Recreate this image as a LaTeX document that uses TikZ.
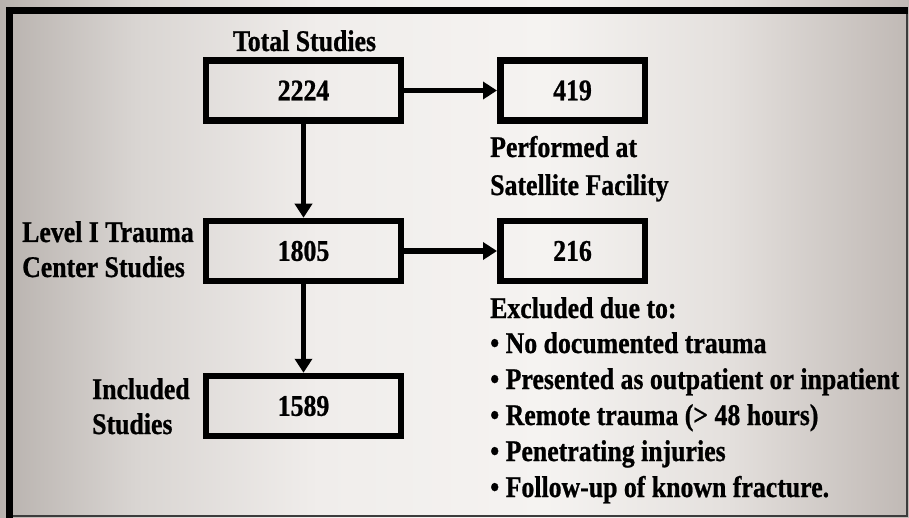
\documentclass[tikz,border=0pt]{standalone}
\usepackage{fontspec}
\setmainfont[FakeStretch=0.86,FakeBold=0.8]{Liberation Serif}
\usetikzlibrary{arrows.meta}
\definecolor{c0}{HTML}{B8B2AE}
\definecolor{c1}{HTML}{D9D5D2}
\definecolor{c2}{HTML}{F0EDEB}
\definecolor{c3}{HTML}{F5F3F1}
\definecolor{c4}{HTML}{E4E0DD}
\definecolor{c5}{HTML}{C0B9B5}
\definecolor{framegray}{HTML}{3C3C3C}
\pgfdeclarehorizontalshading{bgshade}{100bp}{color(0bp)=(c0); color(25bp)=(c0); color(32.5bp)=(c1); color(42.5bp)=(c2); color(55bp)=(c3); color(65bp)=(c4); color(75bp)=(c5); color(100bp)=(c5)}
\begin{document}
\begin{tikzpicture}[x=1pt,y=-1pt,
  txt/.style={inner sep=0pt, text=black, font=\fontsize{30}{36}\selectfont\bfseries},
  box/.style={txt, draw=black, line width=6.5pt, minimum width=195pt, minimum height=60pt},
  smallbox/.style={box, minimum width=144.5pt},
  arr/.style={line width=5.5pt, draw=black, -{Triangle[length=14pt,width=17pt]}}]
\shade[shading=bgshade] (0,0) rectangle (909,518);
\useasboundingbox (0,0) rectangle (909,518);
% frame
\fill[black] (6,7) rectangle (908,14);
\fill[black] (6,7) rectangle (13,518);
\draw[framegray, line width=1.2pt] (907,14) -- (907,516) -- (13,516);
% boxes
\node[box] (n2224) at (303.5,90.5) {2224};
\node[smallbox] (n419) at (572.5,90.5) {419};
\node[box] (n1805) at (303.5,251) {1805};
\node[smallbox] (n216) at (572.5,251) {216};
\node[box] (n1589) at (303.5,406) {1589};
% arrows
\draw[arr] (n2224.east) -- (n419.west);
\draw[arr] (n1805.east) -- (n216.west);
\draw[arr] (n2224.south) -- (n1805.north);
\draw[arr] (n1805.south) -- (n1589.north);
% labels
\node[txt, anchor=base] (tot) at (304.5,51) {Total Studies};
\node[txt, anchor=base west] (perf1) at (490,157) {Performed at};
\node[txt, anchor=base west] (perf2) at (490,195) {Satellite Facility};
\node[txt, anchor=base west] (lev1) at (22,242) {Level I Trauma};
\node[txt, anchor=base west] (lev2) at (22,277) {Center Studies};
\node[txt, anchor=base west] (inc1) at (92,399) {Included};
\node[txt, anchor=base west] (inc2) at (92,434) {Studies};
\node[txt, anchor=base west] (exc) at (490,318) {Excluded due to:};
\node[txt, anchor=base west] (b1) at (490,353) {• No documented trauma};
\node[txt, anchor=base west] (b2) at (490,389) {• Presented as outpatient or inpatient};
\node[txt, anchor=base west] (b3) at (490,425) {• Remote trauma (> 48 hours)};
\node[txt, anchor=base west] (b4) at (490,461) {• Penetrating injuries};
\node[txt, anchor=base west] (b5) at (490,497) {• Follow-up of known fracture.};
\end{tikzpicture}
\end{document}
